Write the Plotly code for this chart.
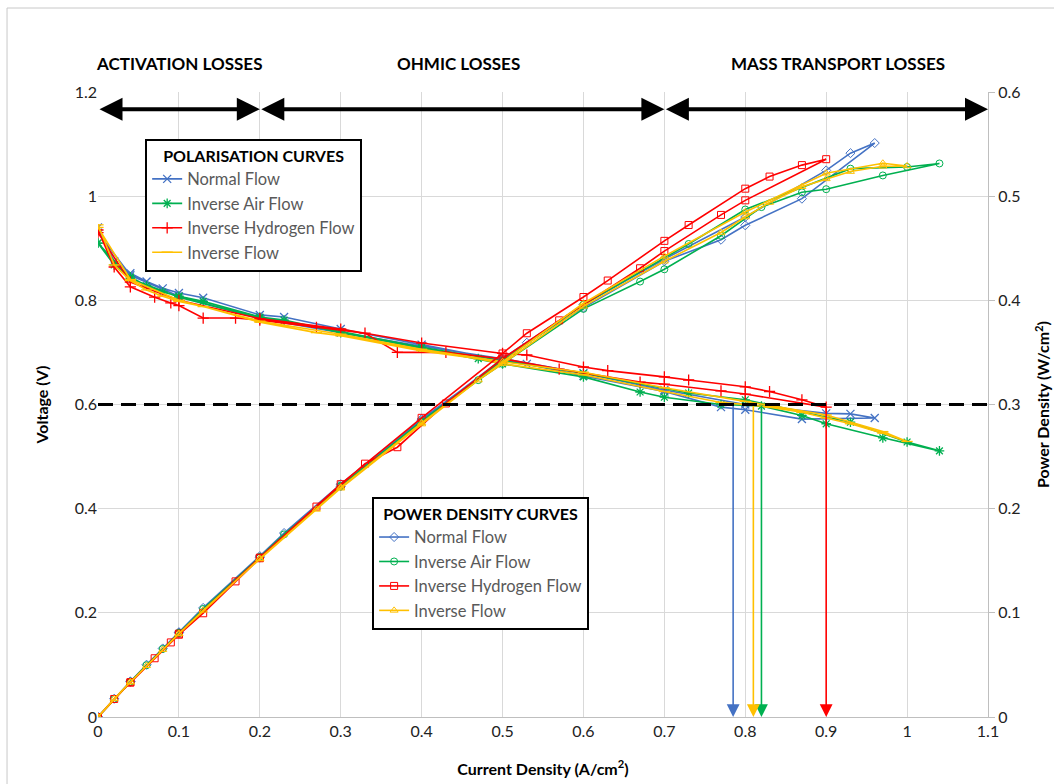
import plotly.graph_objects as go

# ---------------- data ----------------
# Normal Flow
nf_x = [0, 0.02, 0.04, 0.06, 0.08, 0.10, 0.13, 0.20, 0.23, 0.30, 0.40, 0.50, 0.53, 0.60, 0.70, 0.77, 0.80, 0.87, 0.96,
        0.93, 0.90, 0.80, 0.70, 0.60, 0.50, 0.40, 0.30, 0.20, 0.10, 0.04, 0.00]
nf_v = [0.94, 0.875, 0.852, 0.836, 0.823, 0.814, 0.805, 0.772, 0.768, 0.745, 0.715, 0.685, 0.678, 0.655, 0.625, 0.595, 0.590, 0.572, 0.574,
        0.582, 0.583, 0.600, 0.628, 0.660, 0.688, 0.712, 0.738, 0.765, 0.808, 0.848, 0.93]
nf_p = [0, 0.0175, 0.0341, 0.0502, 0.0658, 0.0814, 0.1047, 0.1544, 0.1766, 0.2235, 0.286, 0.3425, 0.3593, 0.393, 0.4375, 0.4582, 0.472, 0.4976, 0.551,
        0.5413, 0.5247, 0.48, 0.4396, 0.396, 0.344, 0.2848, 0.2214, 0.153, 0.0808, 0.0339, 0]

# Inverse Air Flow
ia_x = [0, 0.02, 0.04, 0.06, 0.08, 0.10, 0.13, 0.20, 0.23, 0.30, 0.40, 0.47, 0.50, 0.60, 0.67, 0.70, 0.77, 0.82, 0.87, 0.90, 0.97, 1.04,
        1.00, 0.93, 0.80, 0.73, 0.60, 0.50, 0.40, 0.30, 0.20, 0.10, 0.04, 0.00]
ia_v = [0.91, 0.868, 0.845, 0.828, 0.816, 0.808, 0.798, 0.768, 0.762, 0.738, 0.708, 0.688, 0.678, 0.653, 0.624, 0.614, 0.600, 0.597, 0.579, 0.563, 0.536, 0.511,
        0.528, 0.566, 0.609, 0.622, 0.660, 0.684, 0.710, 0.740, 0.766, 0.806, 0.842, 0.91]
ia_p = [0, 0.0174, 0.0338, 0.0497, 0.0653, 0.0808, 0.1037, 0.1536, 0.1753, 0.2214, 0.2832, 0.3234, 0.339, 0.3918, 0.418, 0.4298, 0.462, 0.4895, 0.5037, 0.5067, 0.5199, 0.5314,
        0.528, 0.5264, 0.4872, 0.4541, 0.396, 0.342, 0.284, 0.222, 0.1532, 0.0806, 0.0337, 0]

# Inverse Hydrogen Flow
ih_x = [0, 0.02, 0.04, 0.07, 0.09, 0.10, 0.13, 0.17, 0.20, 0.27, 0.33, 0.37, 0.43, 0.50, 0.57, 0.67, 0.70, 0.77, 0.80, 0.90,
        0.87, 0.83, 0.80, 0.73, 0.70, 0.63, 0.60, 0.53, 0.50, 0.40, 0.30, 0.20, 0.10, 0.04, 0.00]
ih_v = [0.935, 0.864, 0.826, 0.806, 0.795, 0.790, 0.766, 0.766, 0.762, 0.748, 0.737, 0.700, 0.700, 0.688, 0.668, 0.643, 0.639, 0.626, 0.620, 0.595,
        0.609, 0.625, 0.634, 0.647, 0.653, 0.665, 0.672, 0.695, 0.698, 0.718, 0.745, 0.765, 0.800, 0.835, 0.93]
ih_p = [0, 0.0173, 0.033, 0.0564, 0.0716, 0.079, 0.0996, 0.1302, 0.1524, 0.202, 0.2432, 0.259, 0.301, 0.344, 0.3808, 0.4308, 0.4473, 0.482, 0.496, 0.5355,
        0.5298, 0.5188, 0.5072, 0.4723, 0.4571, 0.419, 0.4032, 0.3684, 0.349, 0.2872, 0.2235, 0.153, 0.08, 0.0334, 0]

# Inverse Flow
if_x = [0, 0.02, 0.04, 0.06, 0.08, 0.10, 0.13, 0.20, 0.27, 0.30, 0.40, 0.47, 0.50, 0.60, 0.70, 0.77, 0.80, 0.83, 0.87, 0.90, 0.93, 0.97, 1.00,
        0.97, 0.90, 0.80, 0.70, 0.60, 0.50, 0.40, 0.30, 0.20, 0.10, 0.04, 0.00]
if_v = [0.945, 0.868, 0.838, 0.82, 0.808, 0.798, 0.788, 0.758, 0.738, 0.732, 0.703, 0.688, 0.678, 0.657, 0.625, 0.604, 0.600, 0.595, 0.585, 0.574, 0.563, 0.545, 0.529,
        0.548, 0.58, 0.606, 0.632, 0.662, 0.682, 0.706, 0.735, 0.76, 0.80, 0.84, 0.94]
if_p = [0, 0.0174, 0.0335, 0.0492, 0.0646, 0.0798, 0.1024, 0.1516, 0.1993, 0.2196, 0.2812, 0.3234, 0.339, 0.3942, 0.4375, 0.4651, 0.48, 0.4939, 0.509, 0.5166, 0.5236, 0.5287, 0.529,
        0.5316, 0.522, 0.4848, 0.4424, 0.3972, 0.341, 0.2824, 0.2205, 0.152, 0.08, 0.0336, 0]

series_names = ["Normal Flow", "Inverse Air Flow", "Inverse Hydrogen Flow", "Inverse Flow"]
colors = ["#4472C4", "#00B050", "#FF0000", "#FFC000"]

# current density at 0.6 V for each series
cd_at_06 = [0.785, 0.82, 0.90, 0.81]
reference_voltage = 0.6

region_bounds = [0, 0.2, 0.7, 1.1]
region_labels = ["ACTIVATION LOSSES", "OHMIC LOSSES", "MASS TRANSPORT LOSSES"]
region_label_x = [0.10, 0.445, 0.915]
region_arrow_v = 1.167

FONT = "Lato"

# ---------------- figure ----------------
fig = go.Figure()

pol_sets = [(nf_x, nf_v), (ia_x, ia_v), (ih_x, ih_v), (if_x, if_v)]
pow_sets = [(nf_x, nf_p), (ia_x, ia_p), (ih_x, ih_p), (if_x, if_p)]
pol_symbols = ["x-thin-open", "asterisk-open", "cross-thin-open", "line-ew-open"]
pow_symbols = ["diamond-open", "circle-open", "square-open", "triangle-up-open"]

for i, (xs, vs) in enumerate(pol_sets):
    fig.add_trace(go.Scatter(
        x=xs, y=vs, name=series_names[i], mode="lines+markers",
        line=dict(color=colors[i], width=1.6),
        marker=dict(symbol=pol_symbols[i], size=8, color=colors[i],
                    line=dict(color=colors[i], width=1.3)),
        legend="legend", legendgroup="pol" + str(i),
        yaxis="y"))

for i, (xs, ps) in enumerate(pow_sets):
    fig.add_trace(go.Scatter(
        x=xs, y=ps, name=series_names[i], mode="lines+markers",
        line=dict(color=colors[i], width=1.6),
        marker=dict(symbol=pow_symbols[i], size=7, color=colors[i],
                    line=dict(color=colors[i], width=1)),
        legend="legend2", legendgroup="pow" + str(i),
        yaxis="y2"))

annotations = []
# vertical arrows down from 0.6 V
for i in range(4):
    annotations.append(dict(
        x=cd_at_06[i], y=0, ax=cd_at_06[i], ay=reference_voltage,
        xref="x", yref="y", axref="x", ayref="y",
        text="", showarrow=True, arrowhead=2, arrowsize=1.6, arrowwidth=1.6,
        arrowcolor=colors[i], standoff=0))

# region double arrows and labels
for j in range(3):
    annotations.append(dict(
        x=region_bounds[j + 1], y=region_arrow_v, ax=region_bounds[j], ay=region_arrow_v,
        xref="x", yref="y", axref="x", ayref="y",
        text="", showarrow=True, arrowhead=2, startarrowhead=2,
        arrowside="end+start", arrowsize=1.15, startarrowsize=1.15,
        arrowwidth=4, arrowcolor="black", standoff=0, startstandoff=0))
    annotations.append(dict(
        x=region_label_x[j], y=1.0464, xref="x", yref="paper",
        xanchor="center", yanchor="middle",
        text="<b>" + region_labels[j] + "</b>", showarrow=False,
        font=dict(family=FONT, size=17, color="black")))

shapes = [
    dict(type="line", xref="x", yref="y", x0=region_bounds[0], x1=region_bounds[-1],
         y0=reference_voltage, y1=reference_voltage,
         line=dict(color="black", width=3, dash="15px,8px")),
    dict(type="rect", xref="paper", yref="paper", x0=-0.1022, x1=1.081, y0=-0.1168, y1=1.1344,
         line=dict(color="#c8c8c8", width=1), layer="below"),
]

legend_common = dict(
    bgcolor="white", bordercolor="black", borderwidth=2,
    font=dict(family=FONT, size=16.5, color="#595959"),
    tracegroupgap=0, itemwidth=30, xanchor="left", yanchor="top")

fig.update_layout(
    width=1054, height=784,
    margin=dict(l=98, r=66, t=92, b=67),
    paper_bgcolor="white", plot_bgcolor="white",
    font=dict(family=FONT, size=16, color="#222"),
    annotations=annotations, shapes=shapes,
    xaxis=dict(range=[0, 1.1], dtick=0.1, showgrid=True, gridcolor="#d9d9d9",
               showline=True, linecolor="#bfbfbf", zeroline=False, ticks="", automargin=False,
               tickfont=dict(family=FONT, size=16, color="#222"),
               title=dict(text="<b>Current Density (A/cm<sup>2</sup>)</b>", standoff=24,
                          font=dict(family=FONT, size=16, color="black"))),
    yaxis=dict(range=[0, 1.2], dtick=0.2, showgrid=True, gridcolor="#d9d9d9",
               showline=False, zeroline=False, ticks="", automargin=False,
               tickfont=dict(family=FONT, size=16, color="#222"),
               title=dict(text="<b>Voltage (V)</b>", standoff=22,
                          font=dict(family=FONT, size=16, color="black"))),
    yaxis2=dict(range=[0, 0.6], dtick=0.1, overlaying="y", side="right", showgrid=False,
                showline=True, linecolor="#bfbfbf", zeroline=False, ticks="outside",
                ticklen=6, tickcolor="#bfbfbf", automargin=False,
                tickfont=dict(family=FONT, size=16, color="#222"),
                title=dict(text="<b>Power Density (W/cm<sup>2</sup>)</b>", standoff=18,
                           font=dict(family=FONT, size=16, color="black"))),
    legend=dict(x=0.053, y=0.925,
                title=dict(text="<b>POLARISATION CURVES</b>", side="top center",
                           font=dict(family=FONT, size=16, color="black")),
                **legend_common),
    legend2=dict(x=0.308, y=0.352,
                 title=dict(text="<b>POWER DENSITY CURVES</b>", side="top center",
                            font=dict(family=FONT, size=16, color="black")),
                 **legend_common),
)

fig.write_html("out.html")
